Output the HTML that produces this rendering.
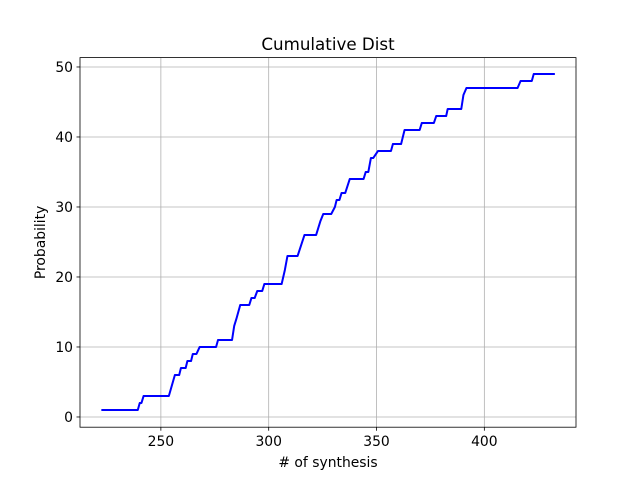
<!DOCTYPE html>
<html><head><meta charset="utf-8"><style>
body{margin:0;background:#fff}
svg text{font-family:"DejaVu Sans","Liberation Sans",sans-serif;fill:#000}
</style></head><body>
<svg id="c" width="640" height="480"></svg>
<script>
const xs=[222.4,239.3,240.2,241,242,253.7,256.5,258.5,259.3,261.5,262.3,264,264.8,266.5,268,275.6,276.5,283,284,285,286.8,291,292,293.5,294.7,297,298,306,307.5,308.7,313.4,316.6,322,324,325.3,329,330.7,331.5,332.8,333.8,335.5,337.6,344,345,346.2,347.4,348.5,350.7,356.7,357.6,361.4,363,370,371,376.6,377.7,382.3,383,389.3,390.3,391.7,415.4,416.8,422,422.9,432.7];
const ys=[1,1,2,2,3,3,6,6,7,7,8,8,9,9,10,10,11,11,13,14,16,16,17,17,18,18,19,19,21,23,23,26,26,28,29,29,30,31,31,32,32,34,34,35,35,37,37,38,38,39,39,41,41,42,42,43,43,44,44,46,47,47,48,48,49,49];
const xticks=[250,300,350,400];
const yticks=[0,10,20,30,40,50];
const L=80,R=576,T=57.6,B=427.2,x0=212.5,x1=442.5,y0=-1.46,y1=51.34;
const X=v=>L+(v-x0)/(x1-x0)*(R-L), Y=v=>B-(v-y0)/(y1-y0)*(B-T);
const s=document.getElementById('c'),NS='http://www.w3.org/2000/svg';
function el(t,a,p){const e=document.createElementNS(NS,t);for(const k in a)e.setAttribute(k,a[k]);(p||s).appendChild(e);return e;}
const g=el('g',{});


xticks.forEach(v=>{el('line',{x1:X(v),x2:X(v),y1:T,y2:B,stroke:'#b0b0b0','stroke-width':0.8},g);
 el('line',{x1:X(v),x2:X(v),y1:B,y2:B+3.5,stroke:'#000','stroke-width':0.8});
 const t=el('text',{x:X(v),y:B+19,'text-anchor':'middle','font-size':13.9});t.textContent=v;
 
 });
yticks.forEach(v=>{el('line',{y1:Y(v),y2:Y(v),x1:L,x2:R,stroke:'#b0b0b0','stroke-width':0.8},g);
 el('line',{y1:Y(v),y2:Y(v),x1:L-3.5,x2:L,stroke:'#000','stroke-width':0.8});
 const t=el('text',{x:L-7,y:Y(v)+5,'text-anchor':'end','font-size':13.9});t.textContent=v;
 
 });
const ln=el('polyline',{points:xs.map((v,i)=>X(v)+','+Y(ys[i])).join(' '),fill:'none',stroke:'#0000ff','stroke-width':2,'stroke-linejoin':'round'});


const fr=el('rect',{x:L,y:T,width:R-L,height:B-T,fill:'none',stroke:'#000','stroke-width':0.8});


const ti=el('text',{x:(L+R)/2,y:50,'text-anchor':'middle','font-size':16.7});ti.textContent='Cumulative Dist';


const xl=el('text',{x:(L+R)/2,y:467,'text-anchor':'middle','font-size':13.9});xl.textContent='# of synthesis';


const yl=el('text',{x:45,y:(T+B)/2,'text-anchor':'middle','font-size':13.9,transform:'rotate(-90 45 '+((T+B)/2)+')'});yl.textContent='Probability';


</script>
</body></html>
